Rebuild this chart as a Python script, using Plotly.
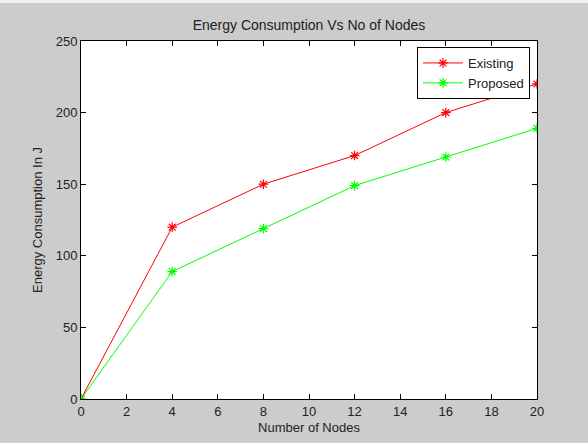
import plotly.graph_objects as go

nodes = [0, 4, 8, 12, 16, 20]
existing = [0, 120, 150, 170, 200, 220]
proposed = [0, 89, 119, 149, 169, 189]
x_ticks = [0, 2, 4, 6, 8, 10, 12, 14, 16, 18, 20]
y_ticks = [0, 50, 100, 150, 200, 250]

W, H = 588, 443
L, R, T, B = 81, 51, 41, 44
PH = H - T - B
FONT = dict(family="Liberation Sans, Arial", size=13, color="#222")

fig = go.Figure()
fig.add_trace(go.Scatter(x=nodes, y=existing, name="Existing", mode="lines+markers",
                         line=dict(color="#ff0000", width=1),
                         marker=dict(symbol="asterisk-open", size=8, color="#ff0000",
                                     line=dict(color="#ff0000", width=1.2))))
fig.add_trace(go.Scatter(x=nodes, y=proposed, name="Proposed", mode="lines+markers",
                         line=dict(color="#00ff00", width=1),
                         marker=dict(symbol="asterisk-open", size=8, color="#00ff00",
                                     line=dict(color="#00ff00", width=1.2))))

axis_common = dict(showgrid=False, zeroline=False, showline=True, linecolor="black",
                   linewidth=1, mirror="allticks", ticks="inside", ticklen=5,
                   tickcolor="black", tickfont=FONT, automargin=False)

fig.update_xaxes(range=[0, 20], tickvals=x_ticks, **axis_common,
                 title=dict(text="Number of Nodes", standoff=5, font=FONT))
fig.update_yaxes(range=[0, 250], tickvals=y_ticks, **axis_common,
                 title=dict(text="Energy Consumption In J", standoff=10, font=FONT))

fig.update_layout(
    width=W, height=H,
    margin=dict(l=L, r=R, t=T, b=B, autoexpand=False),
    paper_bgcolor="#cccccc", plot_bgcolor="white",
    title=dict(text="Energy Consumption Vs No of Nodes", x=(L + (W - R)) / 2 / W, xanchor="center",
               y=1 - 25 / H, yanchor="middle", yref="container",
               font=dict(family="Liberation Sans, Arial", size=14, color="#222")),
    legend=dict(x=(530 - L) / (W - L - R), xanchor="right", y=(H - B - 47) / PH, yanchor="top",
                bgcolor="white", bordercolor="black", borderwidth=1,
                font=FONT, tracegroupgap=0, itemwidth=40),
    showlegend=True,
    shapes=[dict(type="rect", xref="paper", yref="paper", x0=-L / (W - L - R), x1=1 + R / (W - L - R),
                 y0=1 + (T - 3) / PH, y1=1 + T / PH, fillcolor="#f0f0f0", line=dict(width=0), layer="below")],
)

fig.write_html("out.html", config={"displayModeBar": False},
               post_script="document.body.style.margin='0';document.body.style.overflow='hidden';")
